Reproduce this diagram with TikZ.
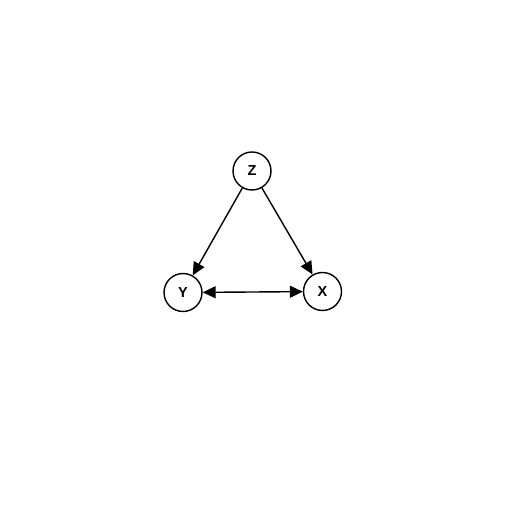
\documentclass[tikz,border=0pt]{standalone}
\usepackage{fontspec}
\setmainfont{Liberation Sans}
\usetikzlibrary{arrows.meta}
\begin{document}
\begin{tikzpicture}[x=1pt, y=1pt,
        var/.style={draw, circle, line width=1.4pt, minimum size=38pt, inner sep=0pt, font=\fontsize{14.5}{15}\selectfont\bfseries},
        edge/.style={-{Triangle[length=13pt, width=12pt]}, line width=1.4pt}]
        \useasboundingbox (0,0) rectangle (522,522);

        % Variaveis
        \node[var] (z) at (252,351) {Z};
        \node[var] (y) at (183,229.5) {Y};
        \node[var] (x) at (322.5,230.5) {X};

        % Setas
        \draw[edge] (z) -- (y);
        \draw[edge] (z) -- (x);
        \draw[edge, {Triangle[length=13pt, width=12pt]}-{Triangle[length=13pt, width=12pt]}] (y) -- (x);
    \end{tikzpicture}
\end{document}
